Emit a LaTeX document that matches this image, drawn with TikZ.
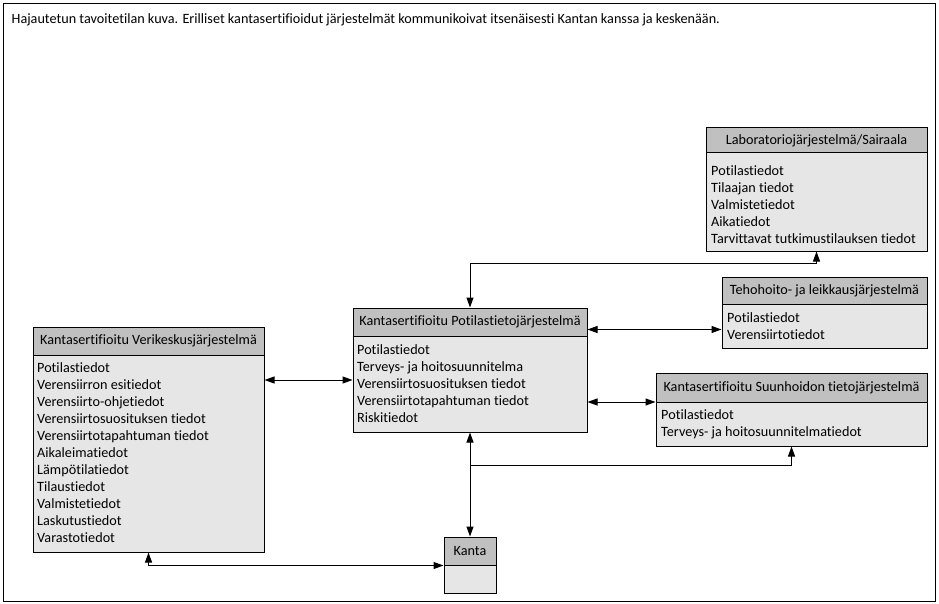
\documentclass[tikz,border=0pt]{standalone}
\usepackage{fontspec}
\setmainfont{Carlito}[Ligatures=NoCommon]
\usetikzlibrary{arrows.meta}
\definecolor{hdrgray}{RGB}{192,192,192}
\definecolor{bodygray}{RGB}{230,230,230}
\tikzset{
  txt/.style={font=\fontsize{14.2}{17}\selectfont},
  hdr/.style={txt, draw=black, line width=1pt, fill=hdrgray, inner sep=0pt},
  bdy/.style={draw=black, line width=1pt, fill=bodygray, inner sep=0pt},
  items/.style={txt, anchor=north west, inner sep=0pt, align=left},
  conn/.style={line width=1pt, draw=black},
  tip/.style={-{Triangle[length=10pt,width=7pt]}},
  dtip/.style={{Triangle[length=10pt,width=7pt]}-{Triangle[length=10pt,width=7pt]}}
}
\begin{document}
\begin{tikzpicture}[x=1pt,y=-1pt]
\useasboundingbox (0,0) rectangle (939,604);
\fill[white] (0,0) rectangle (939,604);
\draw[line width=1pt] (3.5,4) rectangle (935.5,601.5);
\node[txt, anchor=base west, inner sep=0pt] (title) at (11.5,24) {Hajautetun tavoitetilan kuva. Erilliset kantasertifioidut järjestelmät kommunikoivat itsenäisesti Kantan kanssa ja keskenään.};

% Laboratorio
\node[bdy, minimum width=221pt, minimum height=98pt] (labb) at (816.5,202) {};
\node[hdr, minimum width=221pt, minimum height=25pt] (labh) at (816.5,140.5) {Laboratoriojärjestelmä/Sairaala};
\node[items] (labt) at (711,163.3) {\strut Potilastiedot\\Tilaajan tiedot\\Valmistetiedot\\Aikatiedot\\Tarvittavat tutkimustilauksen tiedot};

% Tehohoito
\node[bdy, minimum width=205pt, minimum height=44pt] (tehob) at (824.5,326) {};
\node[hdr, minimum width=205pt, minimum height=27pt] (tehoh) at (824.5,290.5) {Tehohoito- ja leikkausjärjestelmä};
\node[items] (tehot) at (727,310.6) {\strut Potilastiedot\\Verensiirtotiedot};

% Potilastieto
\node[bdy, minimum width=234pt, minimum height=96pt] (potb) at (470,384) {};
\node[hdr, minimum width=234pt, minimum height=28pt] (poth) at (470,322) {Kantasertifioitu Potilastietojärjestelmä};
\node[items] (pott) at (357,342.6) {\strut Potilastiedot\\Terveys- ja hoitosuunnitelma\\Verensiirtosuosituksen tiedot\\Verensiirtotapahtuman tiedot\\Riskitiedot};

% Suunhoito
\node[bdy, minimum width=271pt, minimum height=44pt] (suunb) at (791.5,424) {};
\node[hdr, minimum width=271pt, minimum height=29pt] (suunh) at (791.5,387.5) {Kantasertifioitu Suunhoidon tietojärjestelmä};
\node[items] (suunt) at (661,407.3) {\strut Potilastiedot\\Terveys- ja hoitosuunnitelmatiedot};

% Verikeskus
\node[bdy, minimum width=231pt, minimum height=197pt] (verib) at (148.5,453.5) {};
\node[hdr, minimum width=231pt, minimum height=28pt] (verih) at (148.5,341) {Kantasertifioitu Verikeskusjärjestelmä};
\node[items] (verit) at (37,360.6) {\strut Potilastiedot\\Verensiirron esitiedot\\Verensiirto-ohjetiedot\\Verensiirtosuosituksen tiedot\\Verensiirtotapahtuman tiedot\\Aikaleimatiedot\\Lämpötilatiedot\\Tilaustiedot\\Valmistetiedot\\Laskutustiedot\\Varastotiedot};

% Kanta
\node[bdy, minimum width=52pt, minimum height=28pt] (kantab) at (470,579) {};
\node[hdr, minimum width=52pt, minimum height=28pt] (kantah) at (470,551) {Kanta};

% connectors
\coordinate (jn) at (470,465);
\draw[conn, dtip] (labb.south) -- ++(0,12) -| (poth.north);
\draw[conn, dtip] (poth.east |- 0,329.5) -- (tehob.west |- 0,329.5);
\draw[conn, dtip] (potb.east |- 0,402) -- (suunh.west |- 0,402);
\draw[conn, dtip] (verib.east |- 0,380) -- (potb.west |- 0,380);
\draw[conn, dtip] (potb.south) -- (kantah.north);
\draw[conn, tip] (jn) -| (suunb.south);
\draw[conn, dtip] (verib.south) |- (kantah.south west);
\end{tikzpicture}
\end{document}
